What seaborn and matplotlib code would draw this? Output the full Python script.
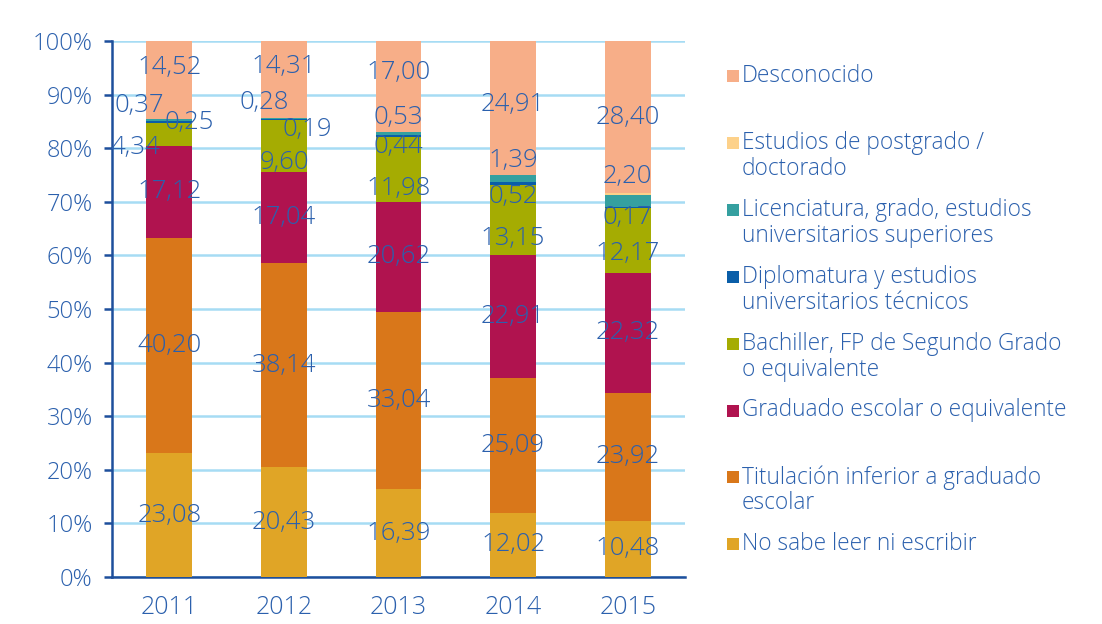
import numpy as np
import matplotlib.pyplot as plt
import seaborn as sns
from matplotlib.patches import Rectangle

years = ['2011', '2012', '2013', '2014', '2015']
no_sabe = [23.08, 20.43, 16.39, 12.02, 10.48]
titulacion = [40.20, 38.14, 33.04, 25.09, 23.92]
graduado = [17.12, 17.04, 20.62, 22.91, 22.32]
bachiller = [4.34, 9.60, 11.98, 13.15, 12.17]
diplomatura = [0.25, 0.19, 0.44, 0.52, 0.17]
licenciatura = [0.37, 0.28, 0.53, 1.39, 2.20]
postgrado = [0.12, 0.01, 0.00, 0.01, 0.34]
desconocido = [14.52, 14.31, 17.00, 24.91, 28.40]

labels = [
    'No sabe leer ni escribir',
    'Titulación inferior a graduado\nescolar',
    'Graduado escolar o equivalente',
    'Bachiller, FP de Segundo Grado\no equivalente',
    'Diplomatura y estudios\nuniversitarios técnicos',
    'Licenciatura, grado, estudios\nuniversitarios superiores',
    'Estudios de postgrado /\ndoctorado',
    'Desconocido',
]
values = [no_sabe, titulacion, graduado, bachiller, diplomatura,
          licenciatura, postgrado, desconocido]
colors = ['#e0a526', '#d9771a', '#b0134f', '#a5ac02', '#0a5ea8',
          '#35a0a0', '#fdd18a', '#f7ae88']
show_label = [True, True, True, True, True, True, False, True]

# hand-placed offsets of the value labels (dx in bar slots, dy in %)
shift_dx = {3: [-0.30, 0, 0, 0, 0], 4: [0.17, 0.20, 0, 0, 0], 5: [-0.26, -0.17, 0, 0, 0]}
shift_dy = {3: [-2.4, -3.0, -3.5, -3.4, -2.4], 4: [0, -1.9, -2.0, -2.5, -1.9],
            5: [2.8, 2.9, 2.9, 3.3, 4.5], 7: [2.4, 2.4, 2.7, 0.6, 0]}

TEXT = '#2b60ad'
AXIS = '#1d4f9c'
GRID = '#a6dcf4'

sns.set_style('white')
plt.rcParams['font.family'] = ['Open Sans', 'DejaVu Sans']
plt.rcParams['font.weight'] = 'light'

W, H = 1102, 624
fig = plt.figure(figsize=(W / 100, H / 100), dpi=100)
ax = fig.add_axes([112 / W, 1 - 577 / H, 573 / W, 536 / H])

bottom = np.zeros(len(years))
for k, (vals, color) in enumerate(zip(values, colors)):
    vals = np.array(vals)
    sns.barplot(x=years, y=vals, bottom=bottom.copy(), color=color, width=0.4,
                saturation=1, errorbar=None, linewidth=0, zorder=3, ax=ax)
    if show_label[k]:
        for i, v in enumerate(vals):
            dx = shift_dx.get(k, [0] * 5)[i]
            dy = shift_dy.get(k, [0] * 5)[i]
            ax.text(i + dx, bottom[i] + v / 2 + dy, f'{v:.2f}'.replace('.', ','),
                    ha='center', va='center', fontsize=18.5, color=TEXT, zorder=5)
    bottom += vals

ax.set_xlim(-0.5, 4.5)
ax.set_ylim(0, 100)
ax.set_yticks(range(0, 101, 10))
ax.set_yticklabels([f'{v}%' for v in range(0, 101, 10)])
ax.yaxis.grid(True, color=GRID, lw=1.8)
ax.set_axisbelow(True)
ax.set_xlabel('')
ax.set_ylabel('')

ax.set_xticks(range(len(years)))
ax.set_xticklabels(years)
ax.set_xticks(np.arange(-0.5, len(years), 1), minor=True)
ax.tick_params(axis='x', which='major', length=0, pad=13, labelsize=18, labelcolor=TEXT)
ax.tick_params(axis='x', which='minor', length=8, width=1.8, color=AXIS, direction='out')
ax.tick_params(axis='y', length=6, width=1.8, color=AXIS, pad=8, labelsize=17,
               labelcolor=TEXT, left=True)

for s in ['top', 'right']:
    ax.spines[s].set_visible(False)
for s in ['left', 'bottom']:
    ax.spines[s].set_color(AXIS)
    ax.spines[s].set_linewidth(1.8)

# legend, top entry first, fixed slot spacing
order = list(range(len(labels)))[::-1]
for j, k in enumerate(order):
    yc = 76 + j * 66.9
    fig.add_artist(Rectangle((727 / W, 1 - (yc + 6) / H), 12 / W, 12 / H,
                             transform=fig.transFigure, color=colors[k], lw=0))
    for n, line in enumerate(labels[k].split('\n')):
        fig.text(742 / W, 1 - (yc + n * 26) / H, line, ha='left', va='center',
                 fontsize=16.3, color=TEXT)

fig.savefig('out.png', dpi=100)
